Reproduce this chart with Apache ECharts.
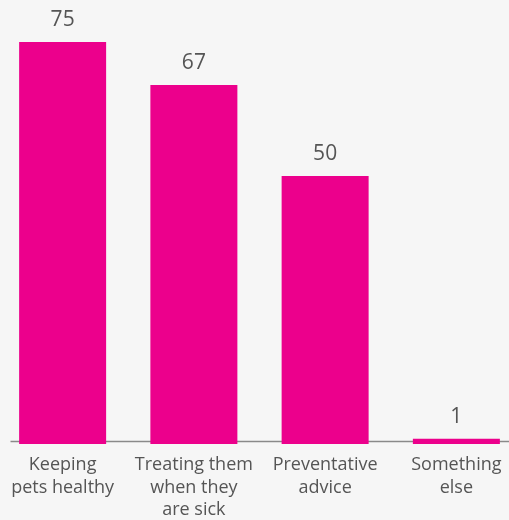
<!DOCTYPE html>
<html><head><meta charset="utf-8">
<script src="https://cdn.jsdelivr.net/npm/echarts@6/dist/echarts.min.js"></script>
<style>html,body{margin:0;padding:0;background:#f6f6f6;}#c{width:509px;height:520px;}</style>
</head><body><div id="c"></div>
<script>
const categories = ["Keeping\npets healthy", "Treating them\nwhen they\nare sick", "Preventative\nadvice", "Something\nelse"];
const values = [75, 67, 50, 1];

const chart = echarts.init(document.getElementById('c'));
chart.setOption({
  backgroundColor: '#f6f6f6',
  animation: false,
  grid: {left: -3, width: 525, top: 42, bottom: 76, containLabel: false, outerBoundsMode: 'none'},
  xAxis: {
    type: 'category', data: categories,
    axisLine: {show: false}, axisTick: {show: false},
    axisLabel: {color: '#555', fontFamily: 'Open Sans', fontSize: 18, lineHeight: 22.5, margin: 10, interval: 0}
  },
  yAxis: {type: 'value', min: 0, max: 75, show: false, splitLine: {show: false}},
  graphic: [{type: 'line', left: 8, bottom: 76, shape: {x1: 0, y1: 0, x2: 501, y2: 0}, style: {stroke: '#8a8a8a', lineWidth: 1.5}}],
  series: [{
    type: 'bar', data: values, barWidth: 87,
    itemStyle: {color: '#ec008c'},
    label: {show: true, position: 'top', distance: 11, color: '#555', fontFamily: 'Open Sans', fontSize: 21}
  }]
});
</script></body></html>
